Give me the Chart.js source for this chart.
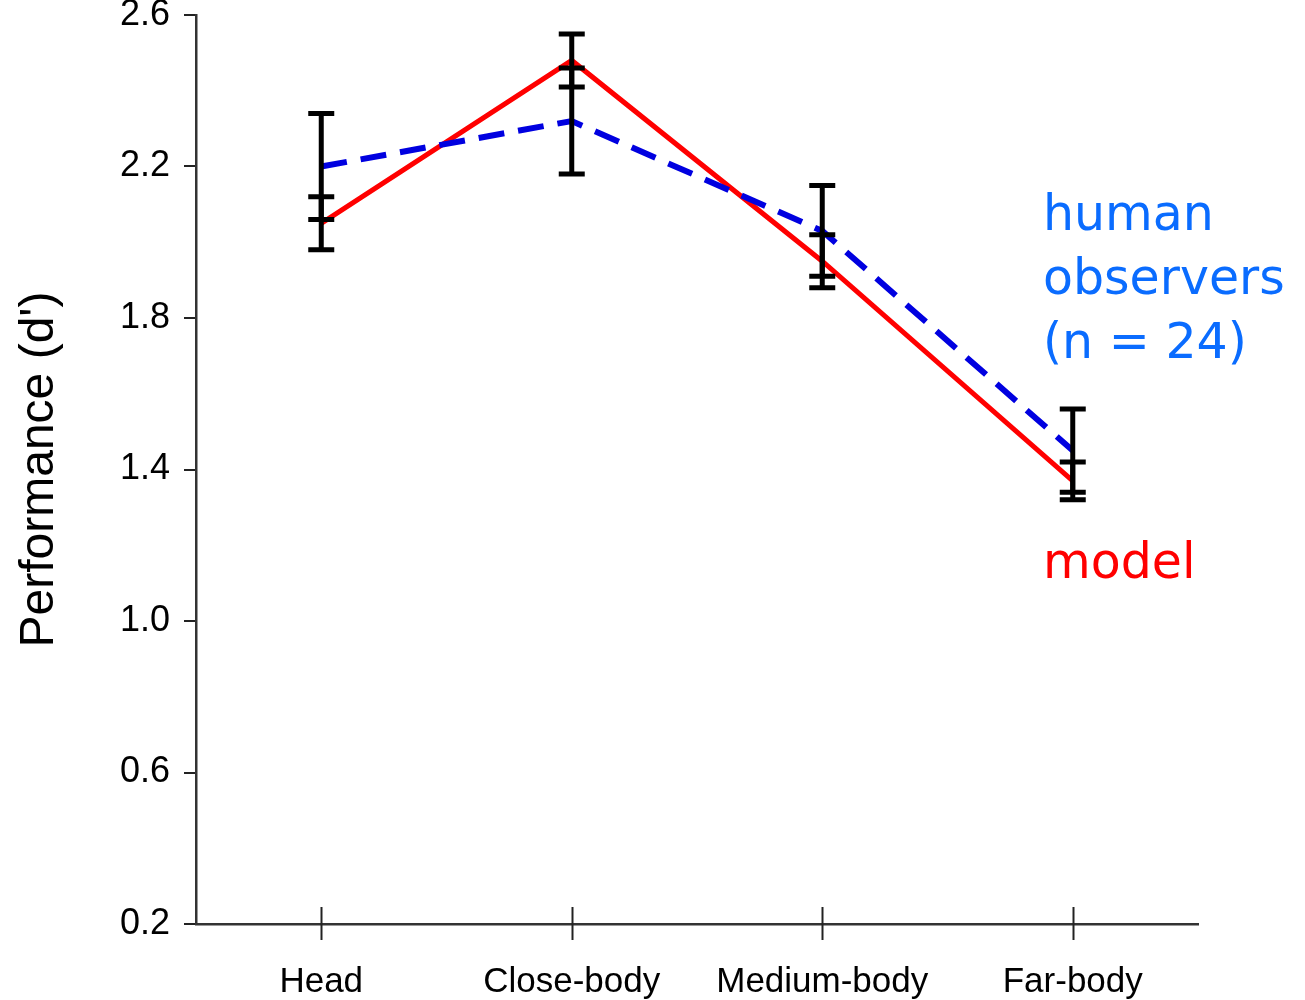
<!DOCTYPE html>
<html>
<head>
<meta charset="utf-8">
<title>Performance (d')</title>
<script src="https://cdn.jsdelivr.net/npm/chart.js@4.4.1/dist/chart.umd.min.js"></script>
<style>
    html, body { margin: 0; padding: 0; background: #fff; }
    #wrap { width: 1305px; height: 1000px; position: relative; }
</style>
</head>
<body>
<div id="wrap"><canvas id="grafico"></canvas></div>
<script>
// Datos
const categorias = ['Head', 'Close-body', 'Medium-body', 'Far-body'];
const humanos = [2.20, 2.32, 2.03, 1.45];
const humanosErr = [0.14, 0.14, 0.12, 0.11];
const modelo = [2.05, 2.48, 1.95, 1.37];
const modeloErr = [0.07, 0.07, 0.07, 0.05];
const ticksY = [0.2, 0.6, 1.0, 1.4, 1.8, 2.2, 2.6];

// Barras de error en negro, dibujadas con las escalas del gráfico
const barrasError = {
    id: 'barrasError',
    afterDatasetsDraw(chart) {
        const ctx = chart.ctx;
        const x = chart.scales.x;
        const y = chart.scales.y;
        const series = [[humanos, humanosErr], [modelo, modeloErr]];
        ctx.save();
        ctx.strokeStyle = '#000';
        ctx.lineWidth = 5;
        ctx.lineCap = 'butt';
        series.forEach(([valores, errores]) => {
            valores.forEach((v, i) => {
                const px = x.getPixelForValue(i);
                const arriba = y.getPixelForValue(v + errores[i]);
                const abajo = y.getPixelForValue(v - errores[i]);
                ctx.beginPath();
                ctx.moveTo(px, arriba);
                ctx.lineTo(px, abajo);
                ctx.moveTo(px - 13, arriba);
                ctx.lineTo(px + 13, arriba);
                ctx.moveTo(px - 13, abajo);
                ctx.lineTo(px + 13, abajo);
                ctx.stroke();
            });
        });
        ctx.restore();
    },
    afterDraw(chart) {
        const ctx = chart.ctx;
        const x = chart.scales.x;
        const area = chart.chartArea;
        ctx.save();
        // marcas del eje x que cruzan la línea
        ctx.strokeStyle = '#222';
        ctx.lineWidth = 2;
        categorias.forEach((c, i) => {
            const px = Math.round(x.getPixelForValue(i)) + 0.5;
            ctx.beginPath();
            ctx.moveTo(px, area.bottom - 17);
            ctx.lineTo(px, area.bottom + 16);
            ctx.stroke();
        });
        // etiquetas de las series
        ctx.font = '49px "DejaVu Sans"';
        ctx.textAlign = 'left';
        ctx.textBaseline = 'alphabetic';
        const tx = area.right - 155;
        ctx.fillStyle = '#0a6cff';
        ctx.fillText('human', tx, area.top + 215);
        ctx.fillText('observers', tx, area.top + 279);
        ctx.fillText('(n = 24)', tx, area.top + 343);
        ctx.fillStyle = '#ff0000';
        ctx.fillText('model', tx, area.top + 563);
        ctx.restore();
    }
};

document.addEventListener('DOMContentLoaded', function () {
    const ctx = document.getElementById('grafico');
    Chart.defaults.font.family = '"Liberation Sans", Arial, sans-serif';
    Chart.defaults.color = '#000';

    new Chart(ctx, {
        type: 'line',
        data: {
            labels: categorias,
            datasets: [{
                label: 'human observers (n = 24)',
                data: humanos,
                borderColor: '#0000e0',
                borderWidth: 6,
                borderDash: [26, 14],
                pointRadius: 0,
                tension: 0,
                fill: false
            }, {
                label: 'model',
                data: modelo,
                borderColor: '#ff0000',
                borderWidth: 5,
                pointRadius: 0,
                tension: 0,
                fill: false
            }]
        },
        options: {
            responsive: true,
            maintainAspectRatio: false,
            animation: false,
            layout: { padding: { left: 0, right: 107, top: 15, bottom: 0 } },
            plugins: {
                legend: { display: false },
                tooltip: { enabled: false }
            },
            scales: {
                x: {
                    type: 'category',
                    offset: true,
                    grid: { display: false, drawTicks: false, tickLength: 0 },
                    border: { display: true, color: '#333', width: 2.5 },
                    ticks: {
                        padding: 37,
                        maxRotation: 0,
                        autoSkip: false,
                        font: { size: 35 },
                        color: '#000'
                    },
                    afterFit: s => { s.height = 76; s.paddingLeft = 0; s.paddingRight = 0; }
                },
                y: {
                    min: 0.2,
                    max: 2.6,
                    ticks: {
                        stepSize: 0.4,
                        padding: 14,
                        font: { size: 36 },
                        color: '#000',
                        callback: v => Number(v).toFixed(1)
                    },
                    afterBuildTicks: s => { s.ticks = ticksY.map(v => ({ value: v })); },
                    grid: { drawOnChartArea: false, drawTicks: true, tickLength: 12, color: '#222', lineWidth: 2 },
                    border: { display: true, color: '#333', width: 2.5 },
                    title: {
                        display: true,
                        text: "Performance (d')",
                        font: { size: 48 },
                        color: '#000',
                        padding: { top: 11, bottom: 0 }
                    },
                    afterFit: s => { s.width = 196; s.paddingTop = 0; s.paddingBottom = 0; }
                }
            }
        },
        plugins: [barrasError]
    });
});
</script>
</body>
</html>
